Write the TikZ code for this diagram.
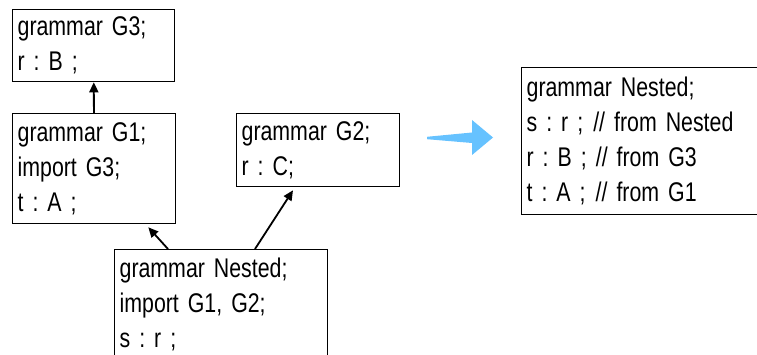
\documentclass[tikz,border=0pt]{standalone}
\usepackage{fontspec}
\setmainfont{Liberation Sans}[FakeStretch=0.79]
\usepackage{xcolor}
\usepackage{tikz}
\usetikzlibrary{arrows.meta,calc,positioning}
\definecolor{mergeblue}{RGB}{102,194,255}
\newcommand{\gramfont}{\fontsize{27}{35}\selectfont\frenchspacing\fontdimen2\font=0.12em\relax}

\begin{document}
\begin{tikzpicture}[x=1pt, y=-1pt,
  gbox/.style={draw, line width=1.3pt, anchor=north west, inner xsep=5pt, inner ysep=0pt, align=left,
    font=\gramfont},
  imp/.style={line width=1.8pt, -{Triangle[length=10pt,width=9pt]}}]
\useasboundingbox (0,0) rectangle (757,355);
\clip (0,0) rectangle (757,355);

\node[gbox, text width=152pt, minimum height=72pt] (g3) at (12,9) {grammar G3;\\r : B ;};
\node[gbox, text width=153pt, minimum height=110pt] (g1) at (12,113) {grammar G1;\\import G3;\\t : A ;};
\node[gbox, text width=153pt, minimum height=73pt] (g2) at (236,113) {grammar G2;\\r : C;};
\node[gbox, text width=203pt, minimum height=110pt] (nested) at (114,249) {grammar Nested;\\import G1, G2;\\s : r ;};
\node[gbox, text width=250pt, minimum height=147pt] (merged) at (521,67)
  {grammar Nested;\\s : r ;\hspace{10pt}// from Nested\\r : B ; // from G3\\t : A ;\hspace{10pt}// from G1};

\draw[imp] (g1) -- (g3);
\draw[imp] ([xshift=54pt]nested.north west) -- ([xshift=-28pt,yshift=-3pt]g1.south east);
\draw[imp] ([xshift=141pt]nested.north west) -- ([xshift=57pt,yshift=-3pt]g2.south west);

\fill[mergeblue] (427,136.8) -- (472,132.5) -- (472,120) -- (493,137.5) -- (472,155)
  -- (472,143) -- (427,139.2) -- cycle;
\end{tikzpicture}
\end{document}
